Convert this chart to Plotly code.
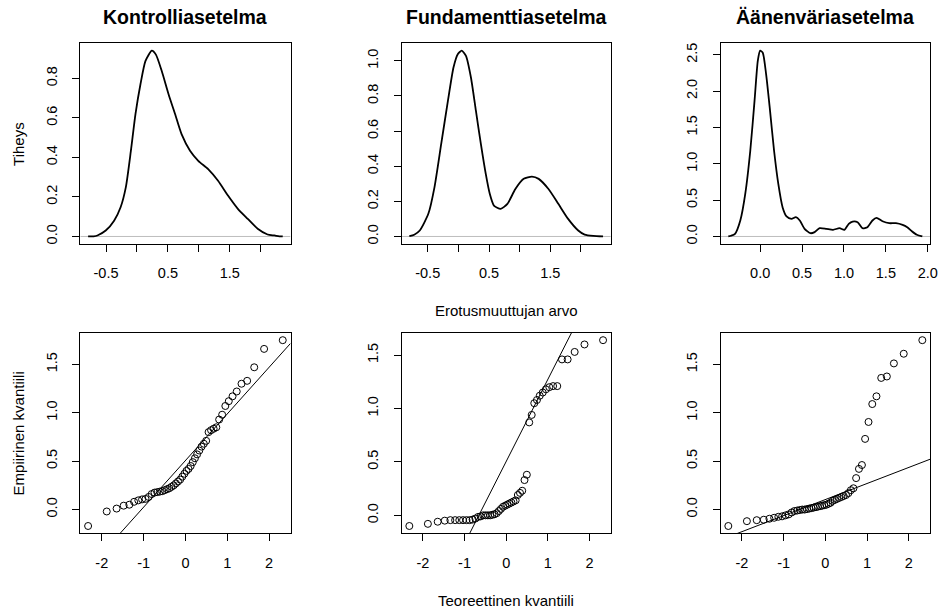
import plotly.graph_objects as go
from statistics import NormalDist

# ---------------- data ----------------
titles = ["Kontrolliasetelma", "Fundamenttiasetelma", "Äänenväriasetelma"]

# sorted sample values (n = 50 each)
kontrolli = [-0.17, -0.02, 0.01, 0.04, 0.05, 0.08, 0.095, 0.105, 0.11, 0.13,
             0.16, 0.175, 0.18, 0.185, 0.19, 0.20, 0.21, 0.22, 0.235, 0.25,
             0.27, 0.29, 0.31, 0.34, 0.37, 0.40, 0.42, 0.45, 0.49, 0.53,
             0.57, 0.61, 0.65, 0.68, 0.71, 0.80, 0.82, 0.835, 0.85, 0.93,
             0.98, 1.07, 1.12, 1.17, 1.22, 1.30, 1.33, 1.47, 1.66, 1.75]
fundamentti = [-0.10, -0.08, -0.06, -0.05, -0.045, -0.045, -0.045, -0.045, -0.045, -0.045,
               -0.04, -0.03, -0.015, -0.01, 0.00, 0.00, 0.00, 0.00, 0.005, 0.01,
               0.02, 0.04, 0.06, 0.08, 0.09, 0.10, 0.11, 0.12, 0.13, 0.14,
               0.19, 0.21, 0.23, 0.33, 0.38, 0.87, 0.94, 1.05, 1.08, 1.12,
               1.15, 1.18, 1.20, 1.21, 1.21, 1.46, 1.46, 1.53, 1.60, 1.64]
aanenvari = [-0.17, -0.12, -0.11, -0.105, -0.095, -0.085, -0.075, -0.07, -0.06, -0.05,
             -0.03, -0.015, -0.01, -0.005, 0.00, 0.00, 0.005, 0.01, 0.015, 0.02,
             0.025, 0.03, 0.035, 0.04, 0.045, 0.05, 0.06, 0.07, 0.09, 0.10,
             0.11, 0.12, 0.13, 0.14, 0.15, 0.17, 0.20, 0.22, 0.325, 0.42,
             0.46, 0.73, 0.905, 1.09, 1.17, 1.36, 1.375, 1.51, 1.61, 1.75]

# density curves
dens1_x = [-0.79, -0.70, -0.64, -0.505, -0.37, -0.265, -0.18, -0.10, -0.024, 0.056,
           0.136, 0.24, 0.306, 0.40, 0.51, 0.617, 0.72, 0.857, 0.99, 1.15,
           1.31, 1.47, 1.63, 1.79, 1.95, 2.11, 2.22, 2.30, 2.355]
dens1_y = [0.0, 0.001, 0.005, 0.03, 0.08, 0.148, 0.25, 0.43, 0.62, 0.77,
           0.887, 0.94, 0.92, 0.837, 0.72, 0.618, 0.518, 0.434, 0.383, 0.341,
           0.282, 0.207, 0.14, 0.089, 0.039, 0.01, 0.005, 0.001, 0.0]
dens2_x = [-0.80, -0.72, -0.63, -0.49, -0.39, -0.28, -0.17, -0.08, -0.01, 0.055,
           0.124, 0.205, 0.286, 0.367, 0.447, 0.512, 0.58, 0.69, 0.80, 0.93,
           1.066, 1.20, 1.31, 1.47, 1.63, 1.79, 1.955, 2.06, 2.20, 2.36]
dens2_y = [0.002, 0.01, 0.034, 0.129, 0.28, 0.527, 0.773, 0.962, 1.038, 1.058,
           1.028, 0.905, 0.716, 0.527, 0.356, 0.243, 0.176, 0.157, 0.186, 0.27,
           0.328, 0.341, 0.328, 0.27, 0.186, 0.10, 0.034, 0.011, 0.003, 0.0]
dens3_x = [-0.38, -0.348, -0.30, -0.237, -0.178, -0.118, -0.067, -0.028, 0.0, 0.031,
           0.071, 0.118, 0.166, 0.217, 0.268, 0.315, 0.374, 0.426, 0.473, 0.53,
           0.60, 0.65, 0.71, 0.79, 0.87, 0.947, 1.006, 1.057, 1.104, 1.163,
           1.22, 1.28, 1.34, 1.388, 1.46, 1.54, 1.62, 1.70, 1.755, 1.81,
           1.87, 1.935]
dens3_y = [0.0, 0.01, 0.037, 0.22, 0.586, 1.18, 1.87, 2.42, 2.558, 2.53,
           2.235, 1.73, 1.18, 0.72, 0.40, 0.275, 0.243, 0.265, 0.22, 0.105,
           0.045, 0.06, 0.114, 0.105, 0.092, 0.114, 0.092, 0.174, 0.206, 0.197,
           0.114, 0.128, 0.22, 0.257, 0.21, 0.183, 0.183, 0.16, 0.128, 0.073,
           0.023, 0.0]

# tick definitions
dens_x_ticks = [-0.5, 0, 0.5, 1, 1.5, 2]
dens_x_text = ["-0.5", "", "0.5", "", "1.5", ""]
dens3_x_ticks = [0, 0.5, 1, 1.5, 2]
dens3_x_text = ["0.0", "0.5", "1.0", "1.5", "2.0"]
dens1_y_ticks = [0, 0.2, 0.4, 0.6, 0.8]
dens1_y_text = ["0.0", "0.2", "0.4", "0.6", "0.8"]
dens2_y_ticks = [0, 0.2, 0.4, 0.6, 0.8, 1.0]
dens2_y_text = ["0.0", "0.2", "0.4", "0.6", "0.8", "1.0"]
dens3_y_ticks = [0, 0.5, 1.0, 1.5, 2.0, 2.5]
dens3_y_text = ["0.0", "0.5", "1.0", "1.5", "2.0", "2.5"]
qq_x_ticks = [-2, -1, 0, 1, 2]
qq_x_text = ["-2", "-1", "0", "1", "2"]
qq_y_ticks = [0, 0.5, 1.0, 1.5]
qq_y_text = ["0.0", "0.5", "1.0", "1.5"]

# ---------------- helpers ----------------
W, H = 947, 612
FONT = "Liberation Sans, Arial, Helvetica, sans-serif"
TICKFONT = 14.5
LABFONT = 15
cols_px = [(81, 293), (405, 616), (726.7, 938)]
rows_px = [(42.3, 243.3), (332.3, 533.3)]


def xdom(c):
    return [cols_px[c][0] / W, cols_px[c][1] / W]


def ydom(r):
    return [1 - rows_px[r][1] / H, 1 - rows_px[r][0] / H]


def expand(lo, hi, f=0.04):
    d = (hi - lo) * f
    return [lo - d, hi + d]


def quantile7(v, p):
    s = sorted(v)
    h = (len(s) - 1) * p
    lo = int(h)
    hi = min(lo + 1, len(s) - 1)
    return s[lo] + (h - lo) * (s[hi] - s[lo])


nd = NormalDist()

fig = go.Figure()
axis_common = dict(showline=True, linecolor="black", linewidth=1, mirror=True,
                   ticks="outside", ticklen=7, tickwidth=1, tickcolor="black",
                   showgrid=False, zeroline=False,
                   tickfont=dict(family=FONT, size=TICKFONT, color="black"))

dens = [(dens1_x, dens1_y, dens_x_ticks, dens_x_text, dens1_y_ticks, dens1_y_text),
        (dens2_x, dens2_y, dens_x_ticks, dens_x_text, dens2_y_ticks, dens2_y_text),
        (dens3_x, dens3_y, dens3_x_ticks, dens3_x_text, dens3_y_ticks, dens3_y_text)]
samples = [kontrolli, fundamentti, aanenvari]

layout_axes = {}
for c in range(3):
    # ---- density (top row) ----
    k = c + 1
    xs, ys, xt, xtt, yt, ytt = dens[c]
    xr = expand(min(xs), max(xs))
    yr = expand(0, max(ys))
    fig.add_trace(go.Scatter(x=xr, y=[0, 0], mode="lines",
                             line=dict(color="#bebebe", width=1),
                             xaxis=f"x{k}", yaxis=f"y{k}", showlegend=False,
                             hoverinfo="skip"))
    fig.add_trace(go.Scatter(x=xs, y=ys, mode="lines",
                             line=dict(color="black", width=1.8, shape="spline", smoothing=0.6),
                             xaxis=f"x{k}", yaxis=f"y{k}", showlegend=False))
    layout_axes[f"xaxis{k}"] = dict(axis_common, domain=xdom(c), range=xr,
                                    tickvals=xt, ticktext=xtt, anchor=f"y{k}",
                                    ticklabelstandoff=9)
    layout_axes[f"yaxis{k}"] = dict(axis_common, domain=ydom(0), range=yr,
                                    tickvals=yt, ticktext=ytt, anchor=f"x{k}",
                                    tickangle=-90, ticklabelstandoff=10)

    # ---- QQ plot (bottom row) ----
    k = c + 4
    v = sorted(samples[c])
    n = len(v)
    theo = [nd.inv_cdf((i + 0.5) / n) for i in range(n)]
    xr = expand(min(theo), max(theo))
    yr = expand(min(v), max(v))
    q1, q3 = quantile7(v, 0.25), quantile7(v, 0.75)
    t1, t3 = nd.inv_cdf(0.25), nd.inv_cdf(0.75)
    slope = (q3 - q1) / (t3 - t1)
    inter = q1 - slope * t1
    fig.add_trace(go.Scatter(x=theo, y=v, mode="markers",
                             marker=dict(symbol="circle-open", size=7,
                                         color="black", line=dict(width=1, color="black")),
                             xaxis=f"x{k}", yaxis=f"y{k}", showlegend=False))
    fig.add_trace(go.Scatter(x=xr, y=[inter + slope * xr[0], inter + slope * xr[1]],
                             mode="lines", line=dict(color="black", width=1),
                             xaxis=f"x{k}", yaxis=f"y{k}", showlegend=False))
    layout_axes[f"xaxis{k}"] = dict(axis_common, domain=xdom(c), range=xr,
                                    tickvals=qq_x_ticks, ticktext=qq_x_text,
                                    anchor=f"y{k}", ticklabelstandoff=9)
    layout_axes[f"yaxis{k}"] = dict(axis_common, domain=ydom(1), range=yr,
                                    tickvals=qq_y_ticks, ticktext=qq_y_text,
                                    anchor=f"x{k}", tickangle=-90,
                                    ticklabelstandoff=10)

annotations = []
for c in range(3):
    cx = (cols_px[c][0] + cols_px[c][1]) / 2 / W
    annotations.append(dict(text=f"<b>{titles[c]}</b>", x=cx, y=1 - 16 / H,
                            xref="paper", yref="paper", showarrow=False,
                            xanchor="center", yanchor="middle",
                            font=dict(family=FONT, size=19.5, color="black")))
lab = dict(xref="paper", yref="paper", showarrow=False, xanchor="center",
           yanchor="middle", font=dict(family=FONT, size=LABFONT, color="black"))
mid2 = (cols_px[1][0] + cols_px[1][1]) / 2 / W
annotations += [
    dict(lab, text="Tiheys", x=18.5 / W, y=1 - 142.8 / H, textangle=-90),
    dict(lab, text="Empiirinen kvantiili", x=18.5 / W, y=1 - 432.8 / H, textangle=-90),
    dict(lab, text="Erotusmuuttujan arvo", x=mid2, y=1 - 310.5 / H),
    dict(lab, text="Teoreettinen kvantiili", x=mid2, y=1 - 600 / H),
]

fig.update_layout(width=W, height=H, autosize=False,
                  margin=dict(l=0, r=0, t=0, b=0),
                  paper_bgcolor="white", plot_bgcolor="white",
                  annotations=annotations, **layout_axes)

fig.write_html("out.html",
               config={"displayModeBar": False, "staticPlot": True},
               post_script="document.body.style.margin='0';document.body.style.padding='0';"
                           "document.body.style.overflow='hidden';")
